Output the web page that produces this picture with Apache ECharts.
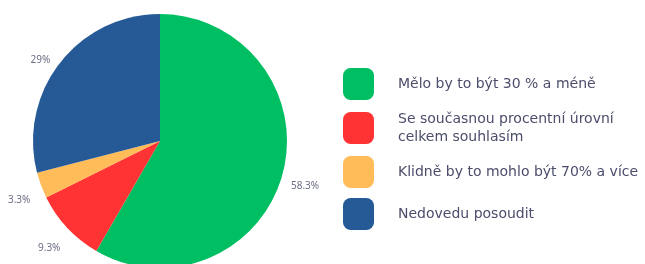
<!DOCTYPE html>
<html>
<head>
<meta charset="utf-8">
<script src="https://cdn.jsdelivr.net/npm/echarts@6/dist/echarts.min.js"></script>
<style>
  html, body { margin: 0; padding: 0; background: #fff; }
  #main { width: 645px; height: 264px; }
</style>
</head>
<body>
<div id="main"></div>
<script>
// kategorie a podíly (%)
var categories = [
  'Mělo by to být 30 % a méně',
  'Se současnou procentní úrovní\ncelkem souhlasím',
  'Klidně by to mohlo být 70% a více',
  'Nedovedu posoudit'
];
var values = [58.3, 9.3, 3.3, 29];
var colors = ['#00bf63', '#ff3333', '#ffbc59', '#265a97'];

var chart = echarts.init(document.getElementById('main'));

var data = categories.map(function (name, i) {
  return { name: name, value: values[i], itemStyle: { color: colors[i] } };
});

var option = {
  animation: false,
  legend: {
    orient: 'vertical',
    left: 338,
    top: 63,
    itemWidth: 31,
    itemHeight: 32,
    itemGap: 10,
    icon: 'roundRect',
    textStyle: {
      fontFamily: 'DejaVu Sans',
      fontSize: 14,
      color: '#4b4d6b',
      lineHeight: 18,
      padding: [0, 0, 0, 19]
    }
  },
  series: [
    {
      type: 'pie',
      center: [160, 141],
      radius: 127,
      startAngle: 90,
      clockwise: true,
      data: data,
      label: {
        show: true,
        position: 'outside',
        overflow: 'none',
        formatter: function (p) { return p.value + '%'; },
        fontFamily: 'Noto Sans',
        fontSize: 10,
        color: '#6b6e85'
      },
      labelLine: { show: false, length: 18, length2: 0 },
      // popisky vystředit na konci (neviditelné) vodicí čáry
      labelLayout: function () {
        return { align: 'center', verticalAlign: 'top', dy: 3 };
      },
      emphasis: { disabled: true }
    }
  ]
};

chart.setOption(option);
window.addEventListener('resize', function () {
  chart.resize();
});
</script>
</body>
</html>
